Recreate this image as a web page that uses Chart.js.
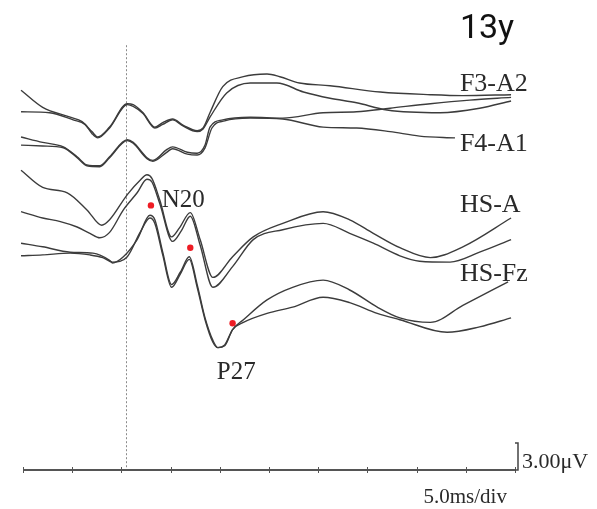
<!DOCTYPE html>
<html>
<head>
<meta charset="utf-8">
<script src="https://cdn.jsdelivr.net/npm/chart.js@4"></script>
<style>
  body { margin: 0; background: #fff; }
  #wrap { width: 597px; height: 509px; position: relative; }
</style>
</head>
<body>
<div id="wrap"><canvas id="myChart"></canvas></div>
<script>
// time in ms (5 ms/div, 10 div), amplitude in uV (traces drawn with their display offset)
const xTicks = [0, 5, 10, 15, 20, 25, 30, 35, 40, 45, 50];
const stimulusMs = 10.5;

const f3a2_1_ms = [-0.2, 2.0, 4.8, 6.0, 7.0, 7.6, 8.8, 10.6, 11.2, 12.2, 13.4, 14.2, 15.2, 16.3, 17.7, 18.3, 19.0, 20.3, 22.4, 24.8, 26.1, 28.1, 31.2, 36.3, 41.4, 44.7, 49.6];
const f3a2_1_uv = [42.2, 40.3, 39.2, 38.7, 37.6, 37.0, 38.1, 40.7, 40.6, 39.7, 38.1, 38.6, 39.0, 38.3, 37.7, 38.0, 39.7, 42.6, 43.7, 44.0, 43.7, 43.0, 42.7, 42.0, 41.7, 41.6, 41.7];
const f3a2_2_ms = [-0.2, 2.7, 5.1, 6.3, 7.0, 7.6, 8.8, 10.6, 11.2, 12.2, 13.4, 14.2, 15.2, 16.3, 17.7, 18.3, 19.0, 20.7, 23.1, 25.8, 28.5, 31.2, 33.9, 37.0, 42.4, 46.4, 49.6];
const f3a2_2_uv = [39.8, 39.7, 38.9, 38.4, 37.4, 36.9, 38.0, 40.6, 40.4, 39.6, 38.0, 38.4, 38.9, 38.2, 37.6, 37.9, 39.2, 41.9, 43.0, 43.0, 42.0, 41.3, 40.8, 40.0, 39.7, 40.2, 41.0];

const f4a1_1_ms = [-0.2, 2.0, 4.1, 5.5, 6.5, 7.8, 8.8, 10.6, 11.2, 12.6, 13.2, 14.6, 15.2, 16.7, 17.7, 18.5, 19.0, 20.3, 23.1, 26.4, 30.5, 33.9, 37.3, 41.4, 45.4, 49.6];
const f4a1_1_uv = [37.0, 36.4, 35.9, 34.8, 33.9, 33.8, 34.8, 36.7, 36.4, 34.7, 34.4, 35.6, 35.9, 35.3, 35.2, 36.1, 38.1, 38.9, 39.2, 39.1, 39.7, 39.8, 40.2, 40.7, 41.1, 41.4];
const f4a1_2_ms = [-0.2, 2.0, 4.1, 5.5, 6.5, 7.8, 8.8, 10.6, 11.2, 12.6, 13.2, 14.6, 15.2, 16.7, 17.7, 18.5, 19.2, 20.5, 23.1, 26.4, 30.5, 33.9, 37.3, 40.3, 43.9];
const f4a1_2_uv = [36.1, 36.0, 35.8, 34.7, 33.8, 33.7, 34.7, 36.6, 36.3, 34.6, 34.3, 35.3, 35.7, 35.1, 35.0, 35.8, 38.0, 38.8, 39.1, 39.0, 38.1, 38.0, 37.6, 37.1, 36.9];

const hsa_1_ms = [-0.2, 2.0, 4.5, 6.5, 8.0, 8.8, 10.6, 11.9, 12.6, 13.1, 13.9, 15.1, 15.9, 17.0, 18.0, 19.3, 21.3, 23.4, 26.4, 30.5, 33.2, 35.6, 38.3, 41.4, 44.7, 49.6];
const hsa_1_uv = [33.3, 31.4, 30.8, 28.9, 27.2, 27.8, 30.6, 32.2, 32.8, 32.4, 30.0, 25.9, 26.9, 28.6, 25.6, 21.4, 23.7, 25.9, 27.4, 28.7, 27.8, 26.3, 24.7, 23.6, 24.8, 28.0];
const hsa_2_ms = [-0.2, 2.0, 3.8, 5.5, 6.8, 7.8, 8.8, 10.2, 11.6, 12.6, 13.1, 13.9, 15.2, 16.1, 17.0, 18.0, 19.3, 21.3, 23.4, 26.4, 30.5, 33.2, 35.6, 38.3, 40.3, 43.4, 46.4, 49.6];
const hsa_2_uv = [28.7, 28.0, 27.6, 27.0, 26.3, 25.8, 26.4, 28.9, 30.8, 32.3, 32.0, 29.6, 25.4, 26.6, 28.2, 25.0, 20.3, 22.6, 25.6, 26.7, 27.4, 26.3, 25.2, 23.8, 23.2, 23.1, 24.2, 25.6];

const hsfz_1_ms = [-0.2, 2.0, 4.8, 7.1, 8.8, 9.1, 10.2, 11.6, 12.9, 13.4, 14.2, 15.1, 16.0, 16.9, 17.7, 18.5, 19.3, 19.8, 20.5, 21.3, 22.4, 24.8, 27.4, 30.5, 33.2, 36.0, 38.3, 41.4, 44.7, 49.3];
const hsfz_1_uv = [25.2, 24.8, 24.2, 24.1, 23.3, 23.0, 23.7, 25.6, 28.3, 27.8, 24.2, 20.6, 22.0, 23.7, 20.6, 16.9, 14.4, 13.6, 13.9, 15.6, 16.7, 18.9, 20.3, 21.1, 20.0, 18.1, 16.9, 16.4, 18.3, 20.9];
const hsfz_2_ms = [-0.2, 2.0, 4.8, 6.8, 8.1, 9.1, 10.6, 11.9, 12.9, 13.4, 14.2, 15.1, 16.0, 16.9, 17.7, 18.5, 19.3, 19.8, 20.5, 21.3, 22.4, 24.8, 27.4, 30.5, 33.2, 36.0, 38.3, 43.1, 46.4, 49.6];
const hsfz_2_uv = [23.8, 23.9, 24.1, 23.9, 23.6, 23.1, 23.7, 26.4, 28.0, 27.4, 23.9, 20.3, 21.8, 23.4, 20.3, 16.7, 14.2, 13.6, 13.8, 15.6, 16.4, 17.4, 18.1, 19.2, 18.6, 17.4, 16.7, 15.3, 15.9, 16.9];

// marked peaks (red dots)
const peak_ms = [13.0, 17.0, 21.3];
const peak_uv = [29.4, 24.7, 16.3];

const channels = ['F3-A2', 'F4-A1', 'HS-A', 'HS-Fz'];
const scaleBarUv = 3;

function toPoints(ms, uv) {
    return ms.map((t, i) => ({x: t, y: uv[i]}));
}

function trace(label, ms, uv) {
    return {
        label,
        data: toPoints(ms, uv),
        borderColor: '#3c3c3c',
        borderWidth: 1.4,
        pointRadius: 0,
        cubicInterpolationMode: 'monotone',
        clip: false,
        fill: false,
    };
}

const overlay = {
    id: 'overlay',
    beforeDatasetsDraw(chart) {
        const {ctx, scales: {x, y}} = chart;
        const y0 = y.getPixelForValue(0);
        ctx.save();

        // stimulus line
        ctx.strokeStyle = '#8a8a8a';
        ctx.lineWidth = 1;
        ctx.setLineDash([2, 2]);
        const sx = Math.round(x.getPixelForValue(stimulusMs)) + 0.5;
        ctx.beginPath();
        ctx.moveTo(sx, y.getPixelForValue(47.2));
        ctx.lineTo(sx, y0);
        ctx.stroke();
        ctx.setLineDash([]);

        // time axis with ticks
        ctx.strokeStyle = '#555';
        ctx.lineWidth = 2;
        ctx.beginPath();
        ctx.moveTo(x.getPixelForValue(xTicks[0]), y0);
        ctx.lineTo(x.getPixelForValue(xTicks[xTicks.length - 1]), y0);
        ctx.stroke();
        ctx.lineWidth = 1;
        for (const t of xTicks) {
            const px = Math.round(x.getPixelForValue(t)) + 0.5;
            ctx.beginPath();
            ctx.moveTo(px, y0 - 3);
            ctx.lineTo(px, y0 + 3);
            ctx.stroke();
        }

        // amplitude scale bar
        const bx = x.getPixelForValue(50) + 3;
        const by = y.getPixelForValue(scaleBarUv);
        ctx.strokeStyle = '#444';
        ctx.lineWidth = 1.5;
        ctx.beginPath();
        ctx.moveTo(bx - 3, by);
        ctx.lineTo(bx, by);
        ctx.lineTo(bx, y0);
        ctx.lineTo(bx - 3, y0);
        ctx.stroke();
        ctx.restore();
    },
    afterDatasetsDraw(chart) {
        const {ctx, scales: {x, y}} = chart;
        ctx.save();
        ctx.fillStyle = '#2a2a2a';
        ctx.textAlign = 'left';
        ctx.textBaseline = 'middle';

        ctx.font = '26px "Liberation Serif"';
        const labelUv = [42.9, 36.2, 29.4, 21.8];
        channels.forEach((c, i) => {
            ctx.fillText(c, x.getPixelForValue(44.4), y.getPixelForValue(labelUv[i]));
        });
        ctx.font = '25px "Liberation Serif"';
        ctx.fillText('N20', x.getPixelForValue(14.1), y.getPixelForValue(30.0));
        ctx.fillText('P27', x.getPixelForValue(19.7), y.getPixelForValue(10.8));

        ctx.font = '22px "Liberation Serif"';
        ctx.fillText('3.00\u03bcV', x.getPixelForValue(50) + 7, y.getPixelForValue(0.9));
        ctx.font = '21px "Liberation Serif"';
        ctx.fillText('5.0ms/div', x.getPixelForValue(40.7), y.getPixelForValue(-3.0));

        ctx.fillStyle = '#111';
        ctx.font = '34px Roboto';
        ctx.fillText('13y', x.getPixelForValue(44.4), y.getPixelForValue(48.9));
        ctx.restore();
    }
};

const ctx = document.getElementById('myChart');
const myChart = new Chart(ctx, {
    type: 'line',
    data: {
        datasets: [
            trace(channels[0], f3a2_1_ms, f3a2_1_uv),
            trace(channels[0], f3a2_2_ms, f3a2_2_uv),
            trace(channels[1], f4a1_1_ms, f4a1_1_uv),
            trace(channels[1], f4a1_2_ms, f4a1_2_uv),
            trace(channels[2], hsa_1_ms, hsa_1_uv),
            trace(channels[2], hsa_2_ms, hsa_2_uv),
            trace(channels[3], hsfz_1_ms, hsfz_1_uv),
            trace(channels[3], hsfz_2_ms, hsfz_2_uv),
            {
                label: 'peaks',
                data: toPoints(peak_ms, peak_uv),
                showLine: false,
                pointRadius: 3.2,
                pointBackgroundColor: '#ee1c24',
                pointBorderWidth: 0,
                order: -1,
            },
        ],
    },
    plugins: [overlay],
    options: {
        responsive: true,
        maintainAspectRatio: false,
        animation: false,
        layout: {padding: {left: 23, right: 82, top: 20, bottom: 39}},
        plugins: {legend: {display: false}, tooltip: {enabled: false}},
        scales: {
            x: {type: 'linear', min: 0, max: 50, display: false},
            y: {type: 'linear', min: 0, max: 50, display: false},
        },
    },
});
</script>
</body>
</html>
